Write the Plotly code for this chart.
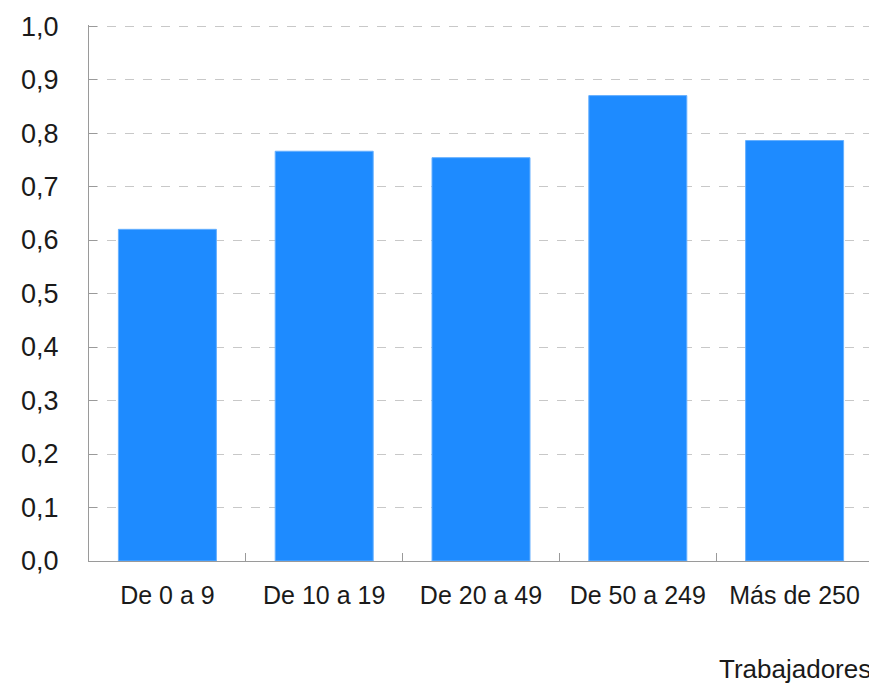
import plotly.graph_objects as go

categories = ["De 0 a 9", "De 10 a 19", "De 20 a 49", "De 50 a 249", "Más de 250"]
values = [0.620, 0.766, 0.754, 0.870, 0.786]
y_ticks = [0.0, 0.1, 0.2, 0.3, 0.4, 0.5, 0.6, 0.7, 0.8, 0.9, 1.0]

font_family = "Liberation Sans, Arial, Helvetica, sans-serif"

bars = go.Bar(
	x=categories,
	y=values,
	marker=dict(color="#1E8BFF", line=dict(color="#66B0FF", width=1)),
	hoverinfo="x+y"
)

fig = go.Figure(data=[bars])
# page body adds an 8px offset, so margins are trimmed to compensate
fig.update_layout(
	width=869,
	height=676,
	margin=dict(l=81, r=4, t=15, b=123),
	paper_bgcolor="white",
	plot_bgcolor="white",
	showlegend=False,
	bargap=0.375,
	separators=", ",
	font=dict(family=font_family, color="#1a1a1a"),
	xaxis=dict(
		showline=True,
		linecolor="#9a9a9a",
		linewidth=1,
		ticks="inside",
		tickson="boundaries",
		ticklen=8,
		tickcolor="#9a9a9a",
		showgrid=False,
		tickfont=dict(size=25),
		ticklabelstandoff=12
	),
	yaxis=dict(
		range=[0, 1.002],  # a hair above 1 so the top gridline is drawn
		tickvals=y_ticks,
		tickformat=".1f",
		showline=True,
		linecolor="#9a9a9a",
		linewidth=1,
		ticks="inside",
		ticklen=8,
		tickcolor="#9a9a9a",
		showgrid=True,
		gridcolor="#c8c8c8",
		griddash="dash",
		gridwidth=1,
		zeroline=False,
		tickfont=dict(size=27),
		ticklabelstandoff=24
	),
	annotations=[dict(
		text="Trabajadores",
		xref="paper", yref="paper",
		x=1.0, y=-0.17,
		xanchor="right", yanchor="top",
		showarrow=False,
		font=dict(size=26, family=font_family, color="#1a1a1a")
	)]
)

fig.write_html("out.html")
